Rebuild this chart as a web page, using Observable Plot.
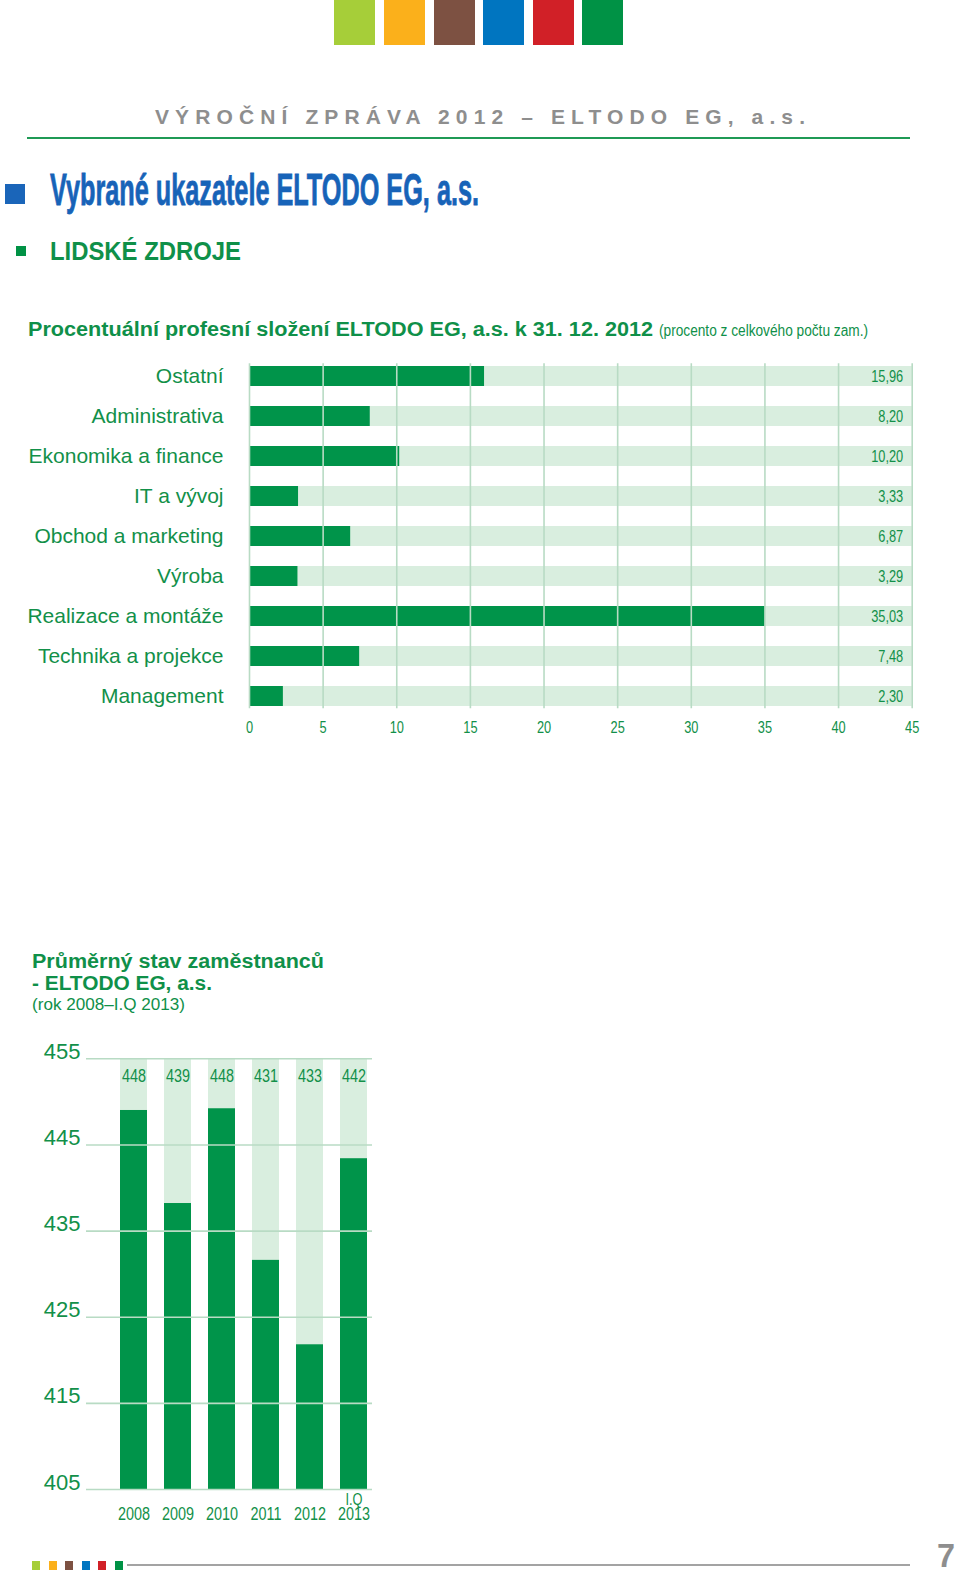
<!DOCTYPE html>
<html>
<head>
<meta charset="utf-8">
<script src="https://cdn.jsdelivr.net/npm/d3@7"></script>
<script src="https://cdn.jsdelivr.net/npm/@observablehq/plot@0.6"></script>
<style>
  html, body { margin: 0; padding: 0; background: #fff; }
  #page { position: relative; width: 960px; height: 1577px; overflow: hidden; font-family: "Liberation Sans", Arial, sans-serif; }
  .abs { position: absolute; }
  svg text { font-family: "Liberation Sans", Arial, sans-serif; }
</style>
</head>
<body>
<div id="page">
  <!-- header colour squares -->
  <div class="abs" style="left:334px;top:0;width:41px;height:45px;background:#a6ce39"></div>
  <div class="abs" style="left:384px;top:0;width:41px;height:45px;background:#fbb01b"></div>
  <div class="abs" style="left:434px;top:0;width:41px;height:45px;background:#7d5142"></div>
  <div class="abs" style="left:483px;top:0;width:41px;height:45px;background:#0075c0"></div>
  <div class="abs" style="left:533px;top:0;width:41px;height:45px;background:#d12027"></div>
  <div class="abs" style="left:582px;top:0;width:41px;height:45px;background:#009245"></div>

  <svg class="abs" style="left:0;top:0" width="960" height="360">
    <text x="155" y="124" textLength="650" lengthAdjust="spacing" font-weight="bold" font-size="21" fill="#8e8e8e">VÝROČNÍ ZPRÁVA 2012 – ELTODO EG, a.s.</text>
    <rect x="27" y="137" width="883" height="2" fill="#1f9a55"></rect>
    <rect x="5" y="184" width="20" height="20" fill="#1a65b9"></rect>
    <text x="50" y="205" textLength="429" lengthAdjust="spacingAndGlyphs" font-weight="bold" font-size="44" fill="#1763b8" stroke="#1763b8" stroke-width="0.8">Vybrané ukazatele ELTODO EG, a.s.</text>
    <rect x="16" y="246" width="10" height="10" fill="#009245"></rect>
    <text x="50" y="260" textLength="191" lengthAdjust="spacingAndGlyphs" font-weight="bold" font-size="25" fill="#0f9049">LIDSKÉ ZDROJE</text>
    <text x="28" y="336" textLength="625" lengthAdjust="spacingAndGlyphs" font-weight="bold" font-size="20" fill="#0f9049">Procentuální profesní složení ELTODO EG, a.s. k 31. 12. 2012</text>
    <text x="659" y="336" textLength="209" lengthAdjust="spacingAndGlyphs" font-size="16" fill="#0f9049">(procento z celkového počtu zam.)</text>
  </svg>

  <div id="chart1" class="abs" style="left:0;top:330px"></div>

  <svg class="abs" style="left:0;top:940px" width="400" height="80">
    <text x="32" y="28" textLength="292" lengthAdjust="spacingAndGlyphs" font-weight="bold" font-size="20" fill="#0f9049">Průměrný stav zaměstnanců</text>
    <text x="32" y="50" textLength="180" lengthAdjust="spacingAndGlyphs" font-weight="bold" font-size="20" fill="#0f9049">- ELTODO EG, a.s.</text>
    <text x="32" y="70" textLength="153" lengthAdjust="spacingAndGlyphs" font-size="17" fill="#0f9049">(rok 2008–I.Q 2013)</text>
  </svg>

  <div id="chart2" class="abs" style="left:0;top:1030px"></div>

  <!-- footer -->
  <div class="abs" style="left:32px;top:1561px;width:8px;height:9px;background:#a6ce39"></div>
  <div class="abs" style="left:49px;top:1561px;width:8px;height:9px;background:#fbb01b"></div>
  <div class="abs" style="left:65px;top:1561px;width:8px;height:9px;background:#7d5142"></div>
  <div class="abs" style="left:82px;top:1561px;width:8px;height:9px;background:#0075c0"></div>
  <div class="abs" style="left:98px;top:1561px;width:8px;height:9px;background:#d12027"></div>
  <div class="abs" style="left:115px;top:1561px;width:8px;height:9px;background:#009245"></div>
  <div class="abs" style="left:127px;top:1564px;width:783px;height:2px;background:#a3a3a3"></div>
  <svg class="abs" style="left:900px;top:1530px" width="60" height="47">
    <text x="37" y="37" textLength="18" lengthAdjust="spacingAndGlyphs" font-weight="bold" font-size="34" fill="#8e8e8e">7</text>
  </svg>
</div>

<script>
// ---------- data ----------
const profese = ["Ostatní", "Administrativa", "Ekonomika a finance", "IT a vývoj", "Obchod a marketing", "Výroba", "Realizace a montáže", "Technika a projekce", "Management"];
const podil = [15.96, 8.20, 10.20, 3.33, 6.87, 3.29, 35.03, 7.48, 2.30];
const podilTicks = [0, 5, 10, 15, 20, 25, 30, 35, 40, 45];

const roky = ["2008", "2009", "2010", "2011", "2012", "2013"];
const rokyPredpona = ["", "", "", "", "", "I.Q"];
const stavPopisky = [448, 439, 448, 431, 433, 442];     // printed labels
const stavVykresleno = [449, 438.2, 449.2, 431.6, 421.8, 443.4]; // bar heights as drawn
const stavTicks = [405, 415, 425, 435, 445, 455];

// ---------- styles ----------
const dark = "#00944a";
const light = "#d9eedf";
const grid = "#b8dbc4";
const txt = "#129049";

const rows1 = profese.map((p, i) => ({p, v: podil[i]}));

const chart1 = Plot.plot({
  width: 960,
  height: 420,
  marginTop: 33.3,
  marginBottom: 41.7,
  marginLeft: 249,
  marginRight: 48.3,
  style: {color: txt, background: "transparent"},
  x: {domain: [0, 45], ticks: podilTicks},
  y: {domain: profese, paddingInner: 0.5, paddingOuter: 0},
  marks: [
    Plot.barX(rows1, {y: "p", x1: 0, x2: 45, fill: light}),
    Plot.barX(rows1, {y: "p", x1: 0, x2: "v", fill: dark}),
    Plot.ruleX(podilTicks, {stroke: grid, strokeWidth: 1.6}),
    Plot.text(rows1, {y: "p", x: 45, dx: -9, textAnchor: "end", text: d => d.v.toFixed(2).replace(".", ","), fill: txt, fontSize: 16, className: "narrow"}),
    Plot.axisY({tickSize: 0, tickPadding: 26, fontSize: 21, fill: txt, label: null}),
    Plot.axisX({ticks: podilTicks, tickSize: 0, tickPadding: 13, fontSize: 16, fill: txt, label: null, className: "narrow"})
  ]
});
document.getElementById("chart1").appendChild(chart1);

const rows2 = roky.map((r, i) => ({r, v: stavVykresleno[i], lab: stavPopisky[i], pre: rokyPredpona[i]}));

const chart2 = Plot.plot({
  width: 400,
  height: 500,
  marginTop: 28.3,
  marginBottom: 41,
  marginLeft: 86,
  marginRight: 28,
  style: {color: txt, background: "transparent"},
  x: {domain: roky, range: [117.3, 368.7], paddingInner: 0.39, paddingOuter: 0, axis: null},
  y: {domain: [405, 455], ticks: stavTicks},
  marks: [
    Plot.barY(rows2, {x: "r", y1: 405, y2: 455, fill: light}),
    Plot.barY(rows2, {x: "r", y1: 405, y2: "v", fill: dark}),
    Plot.ruleY(stavTicks, {stroke: grid, strokeWidth: 1.6}),
    Plot.text(rows2, {x: "r", y: () => 453, text: d => String(d.lab), fill: txt, fontSize: 18, className: "narrow"}),
    Plot.text(rows2, {x: "r", frameAnchor: "bottom", dy: 30, lineAnchor: "bottom", text: "r", fill: txt, fontSize: 18, className: "narrow"}),
    Plot.text(rows2, {x: "r", frameAnchor: "bottom", dy: 15, lineAnchor: "bottom", text: "pre", fill: txt, fontSize: 16, className: "narrow"}),
    Plot.axisY({ticks: stavTicks, tickSize: 0, tickPadding: 6, fontSize: 22, fill: txt, lineAnchor: "bottom", label: null})
  ]
});
document.getElementById("chart2").appendChild(chart2);

// condense the numeric labels (the reference uses a condensed face)
for (const svg of [chart1, chart2]) {
  d3.select(svg).selectAll(".narrow text").each(function () {
    const len = this.getComputedTextLength();
    if (len > 0) {
      this.setAttribute("textLength", (len * 0.8).toFixed(2));
      this.setAttribute("lengthAdjust", "spacingAndGlyphs");
    }
  });
}
</script>
</body>
</html>
